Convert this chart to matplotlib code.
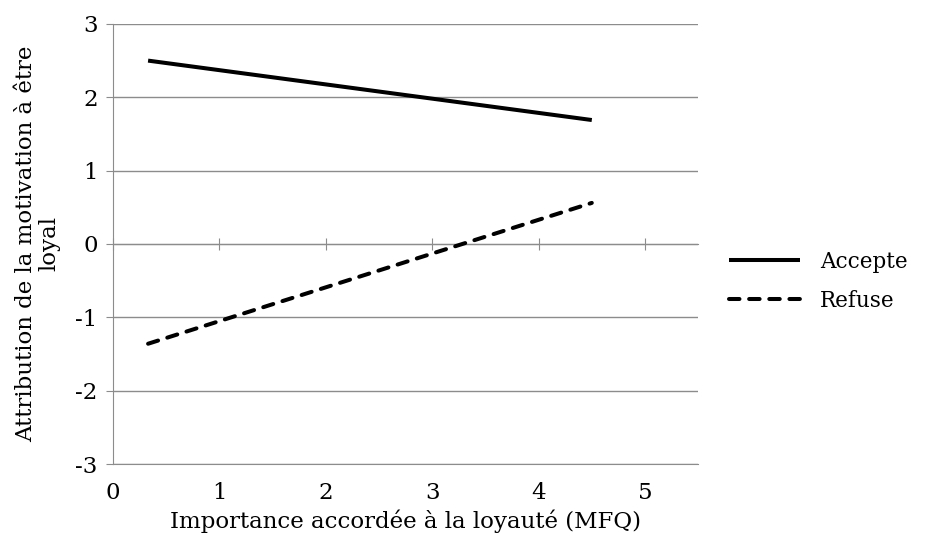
import matplotlib
matplotlib.use("Agg")
import matplotlib.pyplot as plt

# ---- data ----
X_ENDS      = [0.33, 4.5]
ACCEPTE     = [2.5, 1.69]
REFUSE      = [-1.36, 0.56]
X_TICKS     = [0, 1, 2, 3, 4, 5]
Y_TICKS     = [-3, -2, -1, 0, 1, 2, 3]

GRID = "#8c8c8c"
FS = 16.5
plt.rcParams["font.family"] = ["DejaVu Serif"]
plt.rcParams["axes.unicode_minus"] = False

fig = plt.figure(figsize=(9.26, 5.44), dpi=100)
ax = fig.add_axes([0.122, 0.147, 0.632, 0.809])

ax.plot(X_ENDS, ACCEPTE, color="black", lw=2.9, solid_capstyle="butt", label="Accepte")
ax.plot(X_ENDS, REFUSE, color="black", lw=2.9, ls=(0, (2.6, 2.4)),
        dash_capstyle="round", label="Refuse")

ax.set_xlim(0, 5.5)
ax.set_ylim(-3, 3)
ax.set_yticks(Y_TICKS)
ax.set_xticks(X_TICKS)
ax.yaxis.grid(True, color=GRID, lw=1)
ax.set_axisbelow(True)

for s in ("top", "right"):
    ax.spines[s].set_visible(False)
ax.spines["left"].set_color(GRID)
ax.spines["bottom"].set_color(GRID)
ax.tick_params(axis="y", length=5, color=GRID, labelsize=FS, pad=6)
ax.tick_params(axis="x", length=0, labelsize=FS, pad=13)

# x axis line crossing at y = 0 with its tick marks
sec = ax.secondary_xaxis(0.5)
sec.set_xticks(X_TICKS)
sec.tick_params(direction="inout", length=9, color=GRID,
                labelbottom=False, labeltop=False)
sec.spines["bottom"].set_color(GRID)
sec.spines["top"].set_color(GRID)

ax.set_xlabel("Importance accordée à la loyauté (MFQ)", fontsize=FS, labelpad=4)
ax.set_ylabel("Attribution de la motivation à être\nloyal", fontsize=FS,
              labelpad=11, linespacing=1.05)

ax.legend(loc="center left", bbox_to_anchor=(1.02, 0.415), frameon=False,
          fontsize=15.5, handlelength=3.3, handletextpad=0.9, labelspacing=0.8)

fig.savefig("out.png", dpi=100)
